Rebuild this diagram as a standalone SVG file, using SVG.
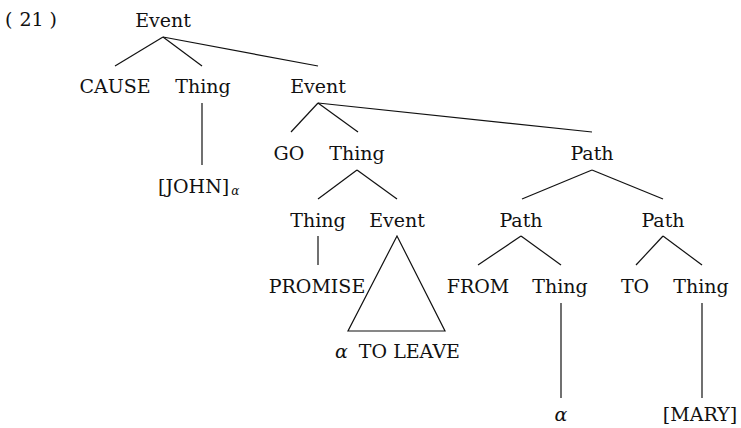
<svg xmlns="http://www.w3.org/2000/svg" width="741" height="428" viewBox="0 0 741 428">
<style>
text{font-family:"DejaVu Serif","Liberation Serif",serif;font-size:19px;fill:#111;text-anchor:middle}
.l{text-anchor:start}
.a{font-style:italic}
.e{stroke:#111;stroke-width:1.2;fill:none}
</style>
<rect width="741" height="428" fill="#fff"/>
<text class="l" x="5" y="26">(<tspan dx="7">21</tspan><tspan dx="6">)</tspan></text>
<g id="connectors">
<line class="e" x1="163" y1="37" x2="115" y2="66"/>
<line class="e" x1="163" y1="37" x2="202" y2="66"/>
<line class="e" x1="163" y1="37" x2="318" y2="66"/>
<line class="e" x1="202" y1="103" x2="202" y2="165"/>
<line class="e" x1="318" y1="103" x2="291" y2="132"/>
<line class="e" x1="318" y1="103" x2="358" y2="132"/>
<line class="e" x1="318" y1="103" x2="592" y2="132"/>
<line class="e" x1="357" y1="170" x2="318" y2="199"/>
<line class="e" x1="357" y1="170" x2="397" y2="199"/>
<line class="e" x1="592" y1="170" x2="522" y2="199"/>
<line class="e" x1="592" y1="170" x2="663" y2="199"/>
<line class="e" x1="318" y1="236" x2="318" y2="265"/>
<polygon class="e" points="397,236 348,331 445,331"/>
<line class="e" x1="521" y1="236" x2="478" y2="265"/>
<line class="e" x1="521" y1="236" x2="561" y2="265"/>
<line class="e" x1="663" y1="236" x2="636" y2="265"/>
<line class="e" x1="663" y1="236" x2="702" y2="265"/>
<line class="e" x1="561" y1="303" x2="561" y2="398"/>
<line class="e" x1="702" y1="303" x2="702" y2="398"/>
</g>
<g id="n-event-root"><text x="163" y="27">Event</text></g>
<g id="n-cause"><text x="115" y="93">CAUSE</text></g>
<g id="n-thing-1"><text x="203" y="93">Thing</text></g>
<g id="n-event-2"><text x="318" y="93">Event</text></g>
<g id="n-john"><text class="l" x="158" y="193">[JOHN]<tspan class="a" font-size="12" dx="2" dy="2">α</tspan></text></g>
<g id="n-go"><text x="289" y="160">GO</text></g>
<g id="n-thing-2"><text x="357" y="160">Thing</text></g>
<g id="n-path-1"><text x="592" y="160">Path</text></g>
<g id="n-thing-3"><text x="318" y="227">Thing</text></g>
<g id="n-event-3"><text x="397" y="227">Event</text></g>
<g id="n-path-2"><text x="521" y="227">Path</text></g>
<g id="n-path-3"><text x="663" y="227">Path</text></g>
<g id="n-promise"><text x="317" y="293">PROMISE</text></g>
<g id="n-from"><text x="478" y="293">FROM</text></g>
<g id="n-thing-4"><text x="560" y="293">Thing</text></g>
<g id="n-to"><text x="635" y="293">TO</text></g>
<g id="n-thing-5"><text x="701" y="293">Thing</text></g>
<g id="n-to-leave"><text class="l" x="335" y="358"><tspan class="a">α</tspan><tspan dx="11">TO LEAVE</tspan></text></g>
<g id="n-alpha"><text class="a" x="561" y="421">α</text></g>
<g id="n-mary"><text x="700" y="421">[MARY]</text></g>
</svg>
